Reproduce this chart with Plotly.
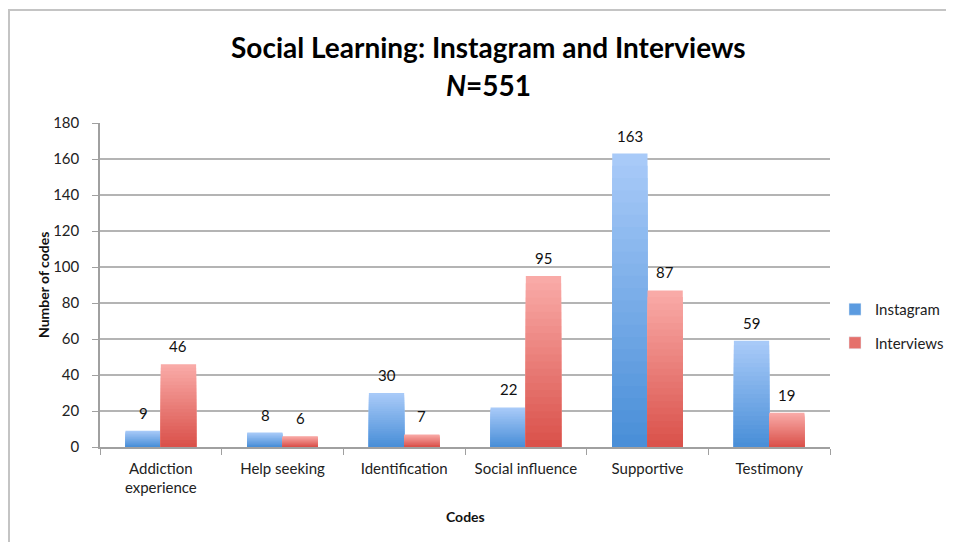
import plotly.graph_objects as go

categories = ["Addiction experience", "Help seeking", "Identification", "Social influence", "Supportive", "Testimony"]
tick_labels = ["Addiction<br>experience", "Help seeking", "Identification", "Social influence", "Supportive", "Testimony"]
instagram = [9, 8, 30, 22, 163, 59]
interviews = [46, 6, 7, 95, 87, 19]

N_LAYERS = 24
OFF = 8  # default page body margin
W, H = 954 - OFF, 542 - OFF
L, R, T, B = 100 - OFF, 954 - 830, 123 - OFF, 542 - 447
PW, PH = W - L - R, H - T - B

def px_x(x):
    return (x - OFF - L) / PW

def px_y(y):
    return (H - B - (y - OFF)) / PH

def lerp(c1, c2, t):
    return "rgb(%d,%d,%d)" % tuple(round(a + (b - a) * t) for a, b in zip(c1, c2))

series = [
    ("Instagram", instagram, (168, 202, 248), (74, 143, 216), "#5b9be0", "ig", -17.5),
    ("Interviews", interviews, (249, 170, 167), (218, 82, 75), "#e5706b", "iv", 17.5),
]

fig = go.Figure()
for name, vals, top, bottom, legend_col, grp, xs in series:
    for i in range(N_LAYERS):
        frac = 1 - i / N_LAYERS
        t = i / (N_LAYERS - 1)
        fig.add_trace(go.Bar(
            x=tick_labels,
            y=[v * frac for v in vals],
            offsetgroup=grp,
            marker=dict(color=lerp(top, bottom, t), line=dict(width=0)),
            name=name,
            showlegend=False,
            hoverinfo="skip",
        ))
    # legend entry
    fig.add_trace(go.Bar(
        x=[None], y=[None], name=name, offsetgroup=grp, legendgroup=grp,
        marker=dict(color=legend_col), showlegend=True,
    ))
    for cat, v in zip(tick_labels, vals):
        fig.add_annotation(x=cat, y=v, text=str(v), showarrow=False,
                           xshift=xs, yshift=7, yanchor="bottom",
                           font=dict(family="Lato, sans-serif", size=15, color="#111111"))

fig.update_layout(
    width=W, height=H,
    paper_bgcolor="white", plot_bgcolor="white",
    margin=dict(l=L, r=R, t=T, b=B, autoexpand=False),
    barmode="group", bargap=0.42, bargroupgap=0,
    font=dict(family="Lato, sans-serif", size=15, color="#222222"),
    showlegend=True,
    legend=dict(x=px_x(835), y=px_y(326), xanchor="left", yanchor="middle",
                font=dict(size=15, color="#222222"), itemwidth=30,
                tracegroupgap=11, bgcolor="rgba(0,0,0,0)"),
)

fig.update_xaxes(
    type="category", showline=True, linecolor="#a0a0a0", linewidth=1.5,
    ticks="outside", tickson="boundaries", ticklen=6, tickcolor="#a0a0a0",
    ticklabelstandoff=7,
    tickfont=dict(size=15, color="#222222"), showgrid=False, automargin=False,
)
fig.update_yaxes(
    range=[0, 180], dtick=20, showline=True, linecolor="#a0a0a0", linewidth=1.5,
    ticks="outside", ticklen=6, tickcolor="#a0a0a0",
    ticklabelstandoff=10,
    showgrid=True, gridcolor="#b4b4b4", gridwidth=1.5, automargin=False,
    tickfont=dict(size=15, color="#222222"), zeroline=False,
)

# axis titles
fig.add_annotation(text="<b>Codes</b>", xref="paper", yref="paper",
                   x=px_x(465), y=px_y(516), xanchor="center", yanchor="middle",
                   showarrow=False, font=dict(size=14, color="#111111"))
fig.add_annotation(text="<b>Number of codes</b>", xref="paper", yref="paper",
                   x=px_x(43), y=0.5, xanchor="center", yanchor="middle", textangle=-90,
                   showarrow=False, font=dict(size=14, color="#111111"))

# chart title
fig.add_annotation(text="<b>Social Learning: Instagram and Interviews</b>",
                   xref="paper", yref="paper", x=px_x(488), y=px_y(47),
                   xanchor="center", yanchor="middle", showarrow=False,
                   font=dict(size=28, color="#000000"))
fig.add_annotation(text="<b><i>N</i>=551</b>",
                   xref="paper", yref="paper", x=px_x(488), y=px_y(85),
                   xanchor="center", yanchor="middle", showarrow=False,
                   font=dict(size=28, color="#000000"))

# outer chart frame
fig.add_shape(type="rect", xref="paper", yref="paper",
              x0=px_x(OFF + 1), x1=px_x(962), y0=px_y(552), y1=px_y(10),
              line=dict(color="#c4c4c4", width=2), fillcolor="rgba(0,0,0,0)", layer="below")

fig.write_html("out.html")
